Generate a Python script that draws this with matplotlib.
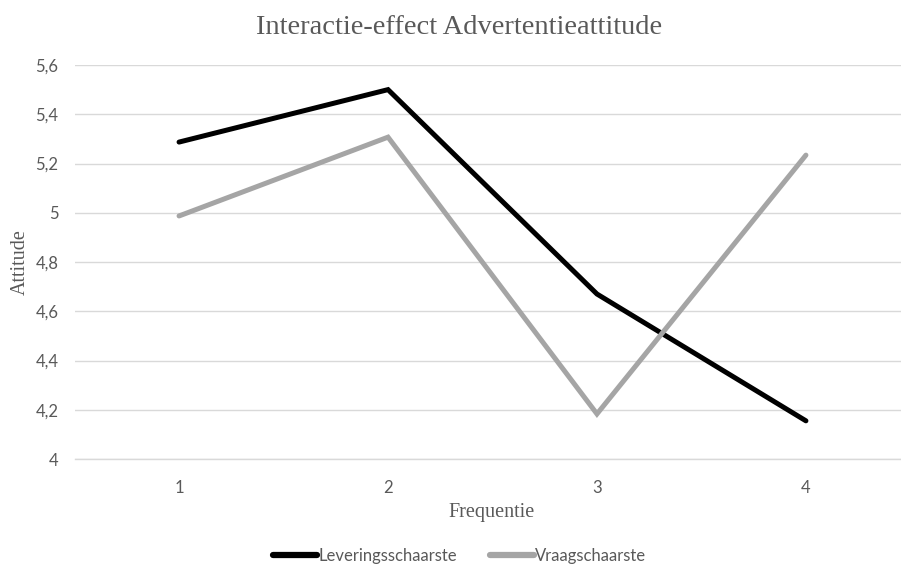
import matplotlib
matplotlib.use("Agg")
import matplotlib.pyplot as plt
from matplotlib.ticker import FuncFormatter

categories = [1, 2, 3, 4]
levering = [5.287, 5.50, 4.67, 4.155]
vraag = [4.987, 5.307, 4.183, 5.234]
yticks = [4.0, 4.2, 4.4, 4.6, 4.8, 5.0, 5.2, 5.4, 5.6]

fig = plt.figure(figsize=(9.01, 5.68), dpi=100)
ax = fig.add_axes([75/901, 1-459/568, 1-75/901, (459-65)/568])

ax.plot(categories, levering, color="black", lw=3.6, solid_capstyle="round",
        solid_joinstyle="miter", label="Leveringsschaarste", zorder=3)
ax.plot(categories, vraag, color="#A5A5A5", lw=3.6, solid_capstyle="round",
        solid_joinstyle="miter", label="Vraagschaarste", zorder=3)

ax.set_xlim(0.502, 4.455)
ax.set_ylim(4.0, 5.6)
ax.set_xticks(categories)
ax.set_yticks(yticks)
ax.yaxis.set_major_formatter(FuncFormatter(lambda v, p: (f"{v:.1f}".rstrip("0").rstrip(".")).replace(".", ",")))
ax.grid(axis="y", color="#D9D9D9", lw=1.0)
ax.set_axisbelow(True)
for s in ["top", "right", "left"]:
    ax.spines[s].set_visible(False)
ax.spines["bottom"].set_color("#D9D9D9")
ax.spines["bottom"].set_linewidth(1.0)
ax.tick_params(axis="both", length=0, colors="#595959", labelsize=12)
ax.tick_params(axis="y", pad=12)
ax.tick_params(axis="x", pad=15)
for lab in ax.get_xticklabels() + ax.get_yticklabels():
    lab.set_fontfamily("Lato")

ax.set_xlabel("Frequentie", family="Liberation Serif", fontsize=14.5, color="#595959", labelpad=4)
ax.xaxis.set_label_coords((492 - 75) / (901 - 75), -0.112)
ax.set_ylabel("Attitude", family="Liberation Serif", fontsize=14.5, color="#595959", labelpad=4)
fig.text(459/901, 1-27/568, "Interactie-effect Advertentieattitude", family="Liberation Serif",
         fontsize=20.5, color="#595959", ha="center", va="center")

leg = fig.legend(loc="center", bbox_to_anchor=(460/901, 1-556/568), ncol=2, frameon=False,
                 handlelength=2.6, handletextpad=0.1, columnspacing=2.0,
                 prop={"family": "Lato", "size": 12})
for t in leg.get_texts():
    t.set_color("#595959")
for l in leg.get_lines():
    l.set_linewidth(4.5)

fig.savefig("out.png", dpi=100)
